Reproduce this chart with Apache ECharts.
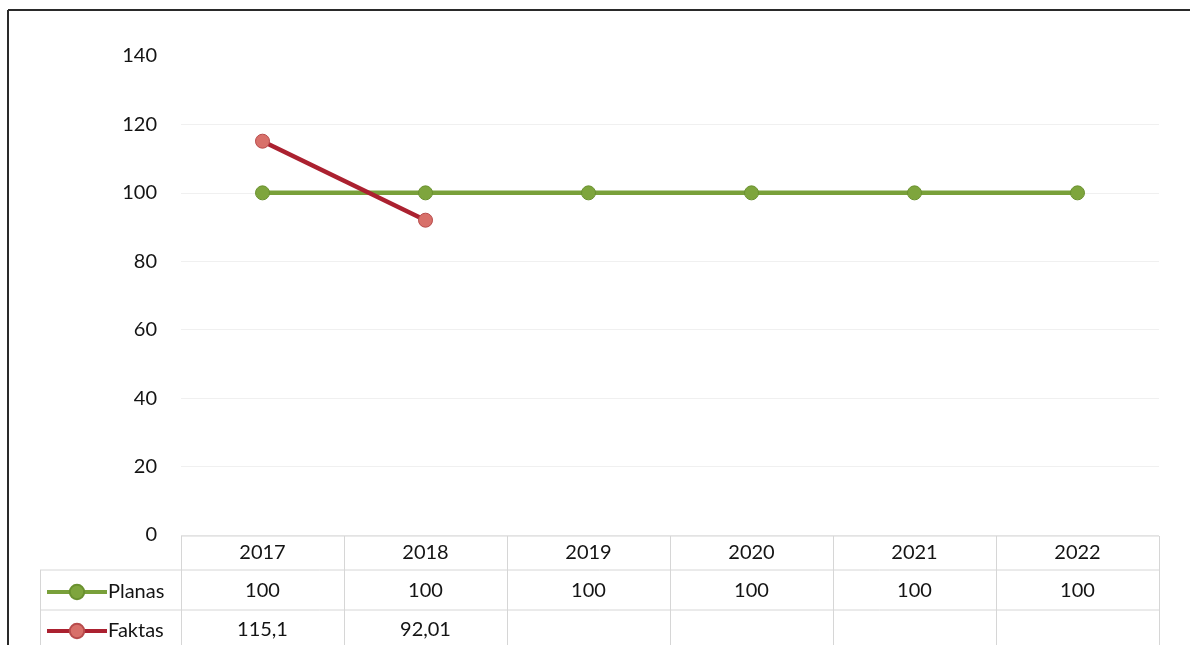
<!DOCTYPE html>
<html>
<head>
<meta charset="utf-8">
<script src="https://cdn.jsdelivr.net/npm/echarts@6/dist/echarts.min.js"></script>
<style>
html,body{margin:0;padding:0;background:#fff;}
#chart{width:1190px;height:645px;}
</style>
</head>
<body>
<div id="chart"></div>
<script>
const categories = ['2017', '2018', '2019', '2020', '2021', '2022'];
const planas = [100, 100, 100, 100, 100, 100];
const faktas = [115.1, 92.01, null, null, null, null];
const faktasLabels = ['115,1', '92,01', '', '', '', ''];
const seriesNames = ['Planas', 'Faktas'];

const FONT = 'Lato, "Open Sans", sans-serif';
const FS = 20;
const TXT = '#141414';
const chart = echarts.init(document.getElementById('chart'));

function valueLabel(arr, labels) {
  return function (v, i) {
    if (labels) return labels[i];
    const x = arr[i];
    return x == null ? '' : String(x).replace('.', ',');
  };
}

function legendFor(name, top) {
  return {
    orient: 'horizontal',
    left: 40,
    top: top,
    itemWidth: 60,
    itemHeight: 18,
    selectedMode: false,
    lineStyle: { width: 4 },
    textStyle: { fontSize: FS, color: TXT, fontFamily: FONT, padding: [0, 0, 0, -4] },
    data: [name]
  };
}

const option = {
  backgroundColor: '#fff',
  animation: false,
  grid: { left: 181, right: 31, top: 56, bottom: 110 },
  legend: [legendFor(seriesNames[0], 577), legendFor(seriesNames[1], 616)],
  xAxis: [
    {
      type: 'category', data: categories, position: 'bottom', boundaryGap: true,
      axisLine: { show: false }, axisTick: { show: false },
      axisLabel: { margin: 8, fontSize: FS, color: TXT, fontFamily: FONT }
    },
    {
      type: 'category', data: categories, position: 'bottom', offset: 37, boundaryGap: true,
      axisLine: { show: false }, axisTick: { show: false },
      axisLabel: { margin: 9, fontSize: FS, color: TXT, fontFamily: FONT, formatter: valueLabel(planas) }
    },
    {
      type: 'category', data: categories, position: 'bottom', offset: 76, boundaryGap: true,
      axisLine: { show: false }, axisTick: { show: false },
      axisLabel: { margin: 9, fontSize: FS, color: TXT, fontFamily: FONT, formatter: valueLabel(faktas, faktasLabels) }
    }
  ],
  yAxis: {
    type: 'value', min: 0, max: 140, interval: 20,
    axisLine: { show: false }, axisTick: { show: false },
    axisLabel: { margin: 24, fontSize: FS, color: TXT, fontFamily: FONT },
    splitLine: { show: true, lineStyle: { color: ['#f0f0f0', '#f0f0f0', '#f0f0f0', '#f0f0f0', '#f0f0f0', '#f0f0f0', '#f0f0f0', '#ffffff'], width: 1 } }
  },
  series: [
    {
      name: 'Planas', type: 'line', xAxisIndex: 0, data: planas,
      symbol: 'circle', symbolSize: 14,
      lineStyle: { color: '#79a03a', width: 4.5 },
      itemStyle: { color: '#7ea53d', borderColor: '#6a912f', borderWidth: 1 },
      z: 2
    },
    {
      name: 'Faktas', type: 'line', xAxisIndex: 0, data: faktas,
      symbol: 'circle', symbolSize: 14, connectNulls: false,
      lineStyle: { color: '#ab2130', width: 4.5 },
      itemStyle: { color: '#d8706a', borderColor: '#b84c4c', borderWidth: 1 },
      z: 3
    }
  ]
};
chart.setOption(option);

// Build table grid lines from axis positions
const p0 = chart.convertToPixel({ xAxisIndex: 0 }, categories[0]);
const p1 = chart.convertToPixel({ xAxisIndex: 0 }, categories[1]);
const band = p1 - p0;
const leftEdge = p0 - band / 2;
const rightEdge = leftEdge + band * categories.length;
const yTop = chart.convertToPixel({ yAxisIndex: 0 }, 0) + 1;
const rowH = [34, 40, 40];
const r1 = yTop + rowH[0], r2 = r1 + rowH[1], r3 = r2 + rowH[2];
const labelLeft = 40;
const lineStyle = { stroke: '#d6d6d6', lineWidth: 1 };
const g = [];
function L(x1, y1, x2, y2, st) {
  g.push({ type: 'line', silent: true, shape: { x1, y1, x2, y2 }, style: st || lineStyle, z: 1 });
}
L(leftEdge, yTop, rightEdge, yTop);
L(labelLeft, r1, rightEdge, r1);
L(labelLeft, r2, rightEdge, r2);
L(labelLeft, r3, rightEdge, r3);
for (let i = 0; i <= categories.length; i++) {
  const x = Math.round(leftEdge + band * i) + 0.5;
  L(x, yTop, x, r3 + 10);
}
L(labelLeft + 0.5, r1, labelLeft + 0.5, r3 + 10);
// chart frame (top and left)
const frame = { stroke: '#2a2a2a', lineWidth: 2 };
L(8, 10, 1190, 10, frame);
L(8, 10, 8, 645, frame);
chart.setOption({ graphic: { elements: g } });
</script>
</body>
</html>
